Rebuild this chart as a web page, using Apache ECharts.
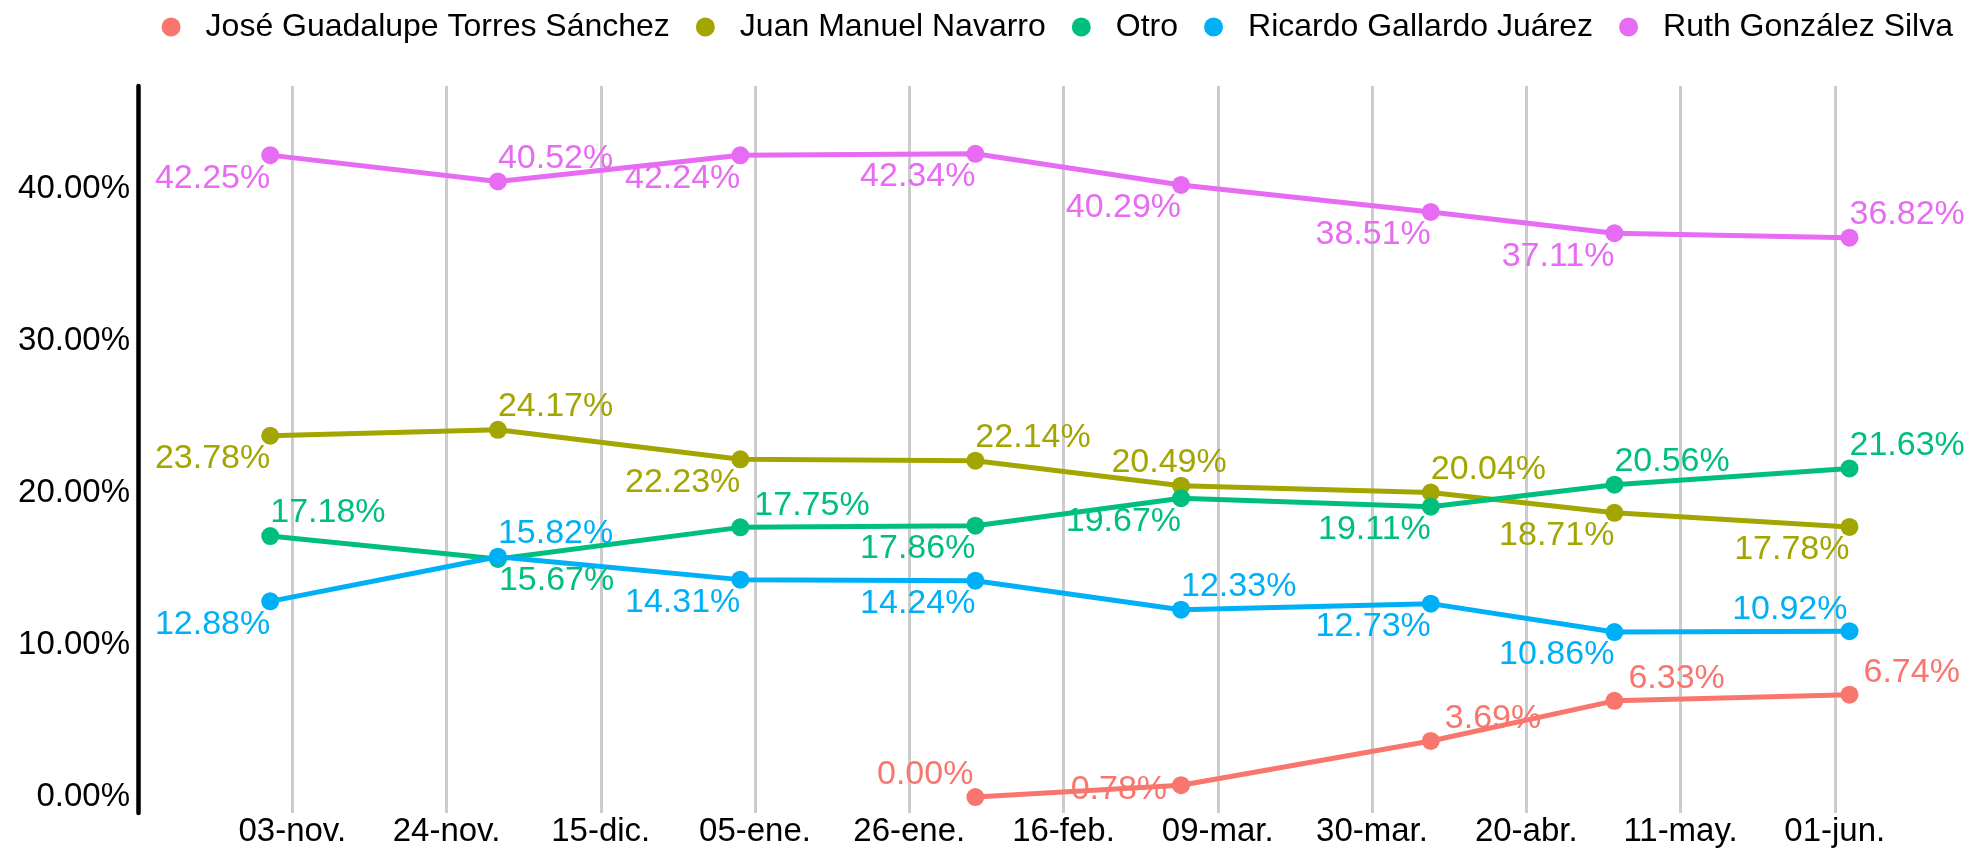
<!DOCTYPE html>
<html><head><meta charset="utf-8">
<script src="https://cdn.jsdelivr.net/npm/echarts@6/dist/echarts.min.js"></script>
<style>html,body{margin:0;padding:0;background:#fff}#chart{width:1970px;height:848px}</style>
</head><body><div id="chart"></div>
<script>
// ---- data ----
const pollDates = ['2020-10-31','2020-12-01','2021-01-03','2021-02-04','2021-03-04','2021-04-07','2021-05-02','2021-06-03'];
const tickDates = ['2020-11-03','2020-11-24','2020-12-15','2021-01-05','2021-01-26','2021-02-16','2021-03-09','2021-03-30','2021-04-20','2021-05-11','2021-06-01'];
const tickLabels = ['03-nov.','24-nov.','15-dic.','05-ene.','26-ene.','16-feb.','09-mar.','30-mar.','20-abr.','11-may.','01-jun.'];
const yTicks = [0, 10, 20, 30, 40];
const seriesNames = ['José Guadalupe Torres Sánchez','Juan Manuel Navarro','Otro','Ricardo Gallardo Juárez','Ruth González Silva'];
const joseTorres      = [null, null, null, 0.00, 0.78, 3.69, 6.33, 6.74];
const juanNavarro     = [23.78, 24.17, 22.23, 22.14, 20.49, 20.04, 18.71, 17.78];
const otro            = [17.18, 15.67, 17.75, 17.86, 19.67, 19.11, 20.56, 21.63];
const ricardoGallardo = [12.88, 15.82, 14.31, 14.24, 12.33, 12.73, 10.86, 10.92];
const ruthGonzalez    = [42.25, 40.52, 42.24, 42.34, 40.29, 38.51, 37.11, 36.82];

// label side for each point (a above-right, b below-left, c below-right, d above-left, l left, r above-right shifted, u above-centre)
const sidesJose    = [null, null, null, 'd', 'l', 'r', 'r', 'r'];
const sidesJuan    = ['b', 'a', 'b', 'a', 'u', 'a', 'b', 'b'];
const sidesOtro    = ['a', 'c', 'r', 'b', 'b', 'b', 'a', 'a'];
const sidesRicardo = ['b', 'a', 'b', 'b', 'a', 'b', 'b', 'd'];
const sidesRuth    = ['b', 'a', 'b', 'b', 'b', 'b', 'b', 'a'];

const colors = ['#F8766D', '#A3A500', '#00BF7D', '#00B0F6', '#E76BF3'];

// ---- build ----
const FONT = "'Liberation Sans', Arial, sans-serif";
const DAY = 86400000;
const origin = Date.parse(tickDates[0]);
const toDay = d => Math.round((Date.parse(d) - origin) / DAY);
const tickDays = tickDates.map(toDay);

const place = {
  a: { align: 'left',   offset: [0, -23] },
  b: { align: 'right',  offset: [0, 23] },
  c: { align: 'left',   offset: [1, 22] },
  d: { align: 'right',  offset: [-2, -22] },
  l: { align: 'right',  offset: [-14, 4] },
  r: { align: 'left',   offset: [14, -22] },
  u: { align: 'center', offset: [-12, -23] }
};

const allValues = [joseTorres, juanNavarro, otro, ricardoGallardo, ruthGonzalez];
const allSides = [sidesJose, sidesJuan, sidesOtro, sidesRicardo, sidesRuth];

const series = seriesNames.map((name, si) => {
  const vals = allValues[si];
  const data = [];
  pollDates.forEach((d, i) => {
    if (vals[i] == null) return;
    const p = place[allSides[si][i]];
    data.push({ value: [toDay(d), vals[i]], label: { align: p.align, offset: p.offset } });
  });
  return {
    name, type: 'line', data,
    symbol: 'circle', symbolSize: 18,
    lineStyle: { width: 5, color: colors[si] },
    itemStyle: { color: colors[si] },
    emphasis: { disabled: true },
    label: {
      show: true, position: 'inside', verticalAlign: 'middle',
      color: colors[si], fontSize: 34, fontFamily: FONT,
      textBorderWidth: 0,
      formatter: p => p.value[1].toFixed(2) + '%'
    }
  };
});

const chart = echarts.init(document.getElementById('chart'), null, { renderer: 'canvas' });
chart.setOption({
  animation: false,
  backgroundColor: '#ffffff',
  color: colors,
  legend: {
    top: 11, right: 17, padding: 0,
    icon: 'circle', itemWidth: 19, itemHeight: 19, itemGap: 26,
    textStyle: { fontSize: 32, fontFamily: FONT, color: '#000', padding: [0, 0, 0, 20] },
    data: seriesNames
  },
  grid: { left: 138, right: 3, top: 86, bottom: 35, containLabel: false, outerBoundsMode: 'none' },
  xAxis: {
    type: 'value', min: -21, max: 228, interval: 21,
    axisLine: { show: false, onZero: false },
    axisTick: { show: false, customValues: tickDays },
    splitLine: { show: true, lineStyle: { color: '#cccccc', width: 3 } },
    axisLabel: {
      customValues: tickDays, margin: 2,
      fontSize: 33, fontFamily: FONT, color: '#000',
      formatter: v => { const i = tickDays.indexOf(v); return i >= 0 ? tickLabels[i] : ''; }
    }
  },
  yAxis: {
    type: 'value', min: -1.05, max: 46.8,
    axisLine: { show: true, onZero: false, lineStyle: { color: '#000', width: 4.5 } },
    axisTick: { show: false, customValues: yTicks },
    splitLine: { show: false },
    axisLabel: {
      customValues: yTicks, margin: 8,
      fontSize: 33, fontFamily: FONT, color: '#000',
      formatter: v => v.toFixed(2) + '%'
    }
  },
  series
});
</script>
</body></html>
